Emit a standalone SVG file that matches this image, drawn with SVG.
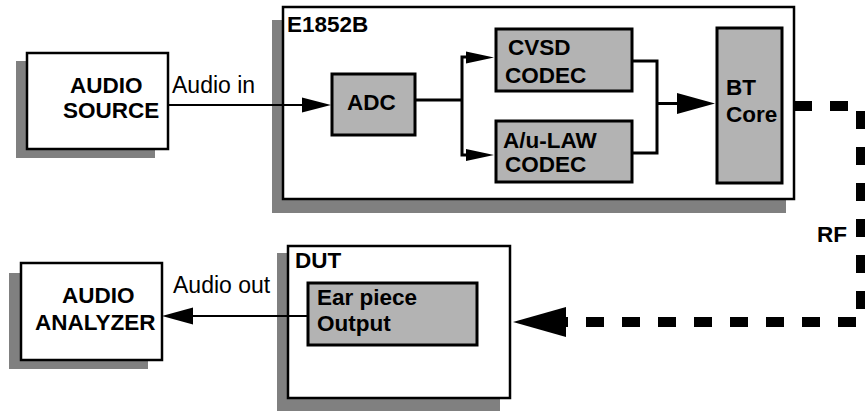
<svg xmlns="http://www.w3.org/2000/svg" width="865" height="411" viewBox="0 0 865 411">
<style>
.shadow{fill:#808080;stroke:none}
.box{fill:#ffffff;stroke:#000;stroke-width:2.5}
.inner{fill:#b3b3b3;stroke:#000;stroke-width:3}
.b{font-family:"Liberation Sans",Arial,sans-serif;font-weight:bold;font-size:22.5px;fill:#000}
.r{font-family:"Liberation Sans",Arial,sans-serif;font-size:23px;fill:#000}
.thin{fill:none;stroke:#000;stroke-width:2}
.thick{fill:none;stroke:#000;stroke-width:3}
.rf{fill:none;stroke:#000;stroke-width:10;stroke-dasharray:18 18}
.head{fill:#000;stroke:none}
</style>
<rect width="865" height="411" fill="#ffffff"/>

<g id="audio-source">
<rect class="shadow" x="16" y="61" width="139" height="97"/>
<rect class="box" x="27" y="53" width="141" height="96"/>
<text class="b" x="70" y="93">AUDIO</text>
<text class="b" x="63" y="118">SOURCE</text>
</g>

<g id="e1852b">
<rect class="shadow" x="272" y="20" width="514" height="193"/>
<rect class="box" x="283" y="7" width="511" height="192"/>
<text class="b" x="287" y="32">E1852B</text>
</g>

<g id="adc">
<rect class="inner" x="332" y="74" width="83" height="61"/>
<text class="b" x="347" y="110">ADC</text>
</g>

<g id="cvsd">
<rect class="inner" x="496" y="29" width="136" height="62"/>
<text class="b" x="508" y="55">CVSD</text>
<text class="b" x="505" y="83">CODEC</text>
</g>

<g id="alaw">
<rect class="inner" x="496" y="121" width="136" height="61"/>
<text class="b" x="503" y="148">A/u-LAW</text>
<text class="b" x="505" y="172">CODEC</text>
</g>

<g id="bt-core">
<rect class="inner" x="717" y="28" width="65" height="155"/>
<text class="b" x="726" y="95">BT</text>
<text class="b" x="726" y="122">Core</text>
</g>

<g id="audio-analyzer">
<rect class="shadow" x="9" y="273" width="139" height="96"/>
<rect class="box" x="21" y="263" width="141" height="97"/>
<text class="b" x="62" y="303">AUDIO</text>
<text class="b" x="35" y="330">ANALYZER</text>
</g>

<g id="dut">
<rect class="shadow" x="277" y="253" width="223" height="158"/>
<rect class="box" x="288" y="246" width="222" height="152"/>
<text class="b" x="295" y="268">DUT</text>
</g>

<g id="ear-piece">
<rect class="inner" x="308" y="283" width="169" height="62"/>
<text class="b" x="317" y="305">Ear piece</text>
<text class="b" x="317" y="331">Output</text>
</g>

<g id="connectors">
<line class="thin" x1="168" y1="105" x2="303" y2="105"/>
<polygon class="head" points="331,105 302,97.5 302,112.5"/>
<text class="r" x="172" y="93">Audio in</text>

<polyline class="thick" points="415,100 462,100"/>
<polyline class="thick" points="468,57 462,57 462,155 468,155"/>
<polygon class="head" points="494,57.5 466,51.5 466,63.5"/>
<polygon class="head" points="494,155 466,149 466,161"/>

<polyline class="thick" points="632,61 657,61 657,153 632,153"/>
<line class="thick" x1="657" y1="103.5" x2="679" y2="103.5"/>
<polygon class="head" points="715,103.5 677,93 677,114"/>

<path class="rf" d="M794,106 H861 V322 H560"/>
<polygon class="head" points="513,322 566,307 566,337"/>
<text class="b" x="817" y="242">RF</text>

<line class="thin" x1="308" y1="316" x2="190" y2="316"/>
<polygon class="head" points="162,316 193,307.5 193,324.5"/>
<text class="r" x="173" y="293">Audio out</text>
</g>
</svg>
